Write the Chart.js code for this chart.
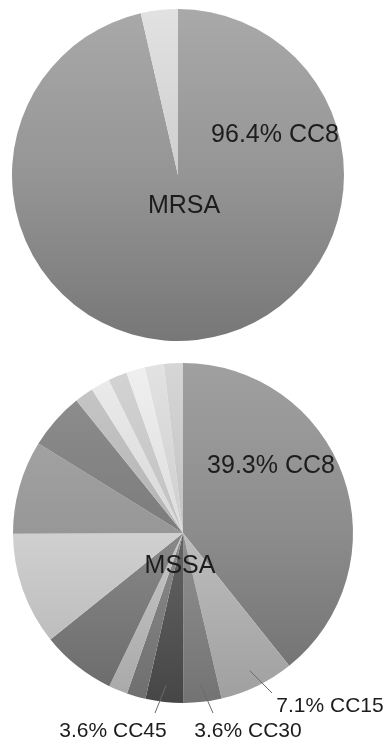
<!DOCTYPE html>
<html>
<head>
<meta charset="utf-8">
<script src="https://cdn.jsdelivr.net/npm/chart.js@4/dist/chart.umd.min.js"></script>
<style>
  html, body { margin: 0; padding: 0; background: #fff; }
  body { width: 388px; height: 740px; position: relative; overflow: hidden; }
  .box { position: absolute; left: 0; width: 388px; }
  #boxTop { top: 0; height: 350px; }
  #boxBottom { top: 350px; height: 390px; }
</style>
</head>
<body>
<div class="box" id="boxTop"><canvas id="mrsaChart"></canvas></div>
<div class="box" id="boxBottom"><canvas id="mssaChart"></canvas></div>
<script>
// MRSA: share of isolates per clonal complex (%)
const mrsaCategories = ['CC8', 'Other'];
const mrsaValues = [96.4, 3.6];
const mrsaColors = ['#959595', '#cecece'];

// MSSA: clockwise from 12 o'clock; only four complexes are named in the figure
const mssaCategories = ['CC8', 'CC15', 'CC30', 'CC45',
  'Other 1', 'Other 2', 'Other 3', 'Other 4', 'Other 5', 'Other 6',
  'Other 7', 'Other 8', 'Other 9', 'Other 10', 'Other 11', 'Other 12'];
const mssaValues = [39.3, 7.1, 3.6, 3.6, 1.8, 1.8, 7.1, 10.7, 8.9, 5.4,
  1.8, 1.8, 1.8, 1.8, 1.8, 1.8];
const mssaColors = ['#8c8c8c', '#bdbdbd', '#919191', '#646464', '#8c8c8c', '#c6c6c6',
  '#888888', '#d0d0d0', '#979797', '#7c7c7c',
  '#b4b4b4', '#d8d8d8', '#c0c0c0', '#dcdcdc', '#cecece', '#c2c2c2'];

function shift(hex, d) {
  const n = parseInt(hex.slice(1), 16);
  const c = [n >> 16, (n >> 8) & 255, n & 255].map(v => Math.max(0, Math.min(255, v + d)));
  return 'rgb(' + c.join(',') + ')';
}

// vertical light-to-dark shading, like the original office chart style
function shaded(colors) {
  return (ctx) => {
    const base = colors[ctx.dataIndex];
    const area = ctx.chart.chartArea;
    if (!area) return base;
    const g = ctx.chart.ctx.createLinearGradient(0, area.top, 0, area.bottom);
    g.addColorStop(0, shift(base, 20));
    g.addColorStop(0.5, shift(base, 0));
    g.addColorStop(1, shift(base, -30));
    return g;
  };
}

const FONT = '"Liberation Sans", Arial, sans-serif';

// draws the text labels and leader lines around the arcs
const pieLabels = {
  id: 'pieLabels',
  afterDatasetsDraw(chart, args, opts) {
    const ctx = chart.ctx;
    const arcs = chart.getDatasetMeta(0).data;
    const cx = arcs[0].x, cy = arcs[0].y, r = arcs[0].outerRadius;
    const cats = chart.data.labels;
    const vals = chart.data.datasets[0].data;
    ctx.save();
    ctx.fillStyle = '#1c1c1c';
    ctx.textAlign = 'center';
    ctx.textBaseline = 'middle';
    ctx.font = '25px ' + FONT;
    ctx.fillText(opts.title, cx + opts.titleAt[0], cy + opts.titleAt[1]);
    opts.items.forEach(it => {
      const text = vals[it.index].toFixed(1) + '% ' + cats[it.index];
      if (it.leader) {
        const a = arcs[it.index];
        const mid = (a.startAngle + a.endAngle) / 2;
        ctx.strokeStyle = '#6a6a6a';
        ctx.lineWidth = 1;
        ctx.beginPath();
        ctx.moveTo(cx + Math.cos(mid) * r * 0.9, cy + Math.sin(mid) * r * 0.9);
        ctx.lineTo(cx + it.leader[0], cy + it.leader[1]);
        ctx.stroke();
        ctx.font = '21px ' + FONT;
        ctx.textBaseline = 'alphabetic';
      } else {
        ctx.font = '25px ' + FONT;
        ctx.textBaseline = 'middle';
      }
      ctx.fillText(text, cx + it.at[0], cy + it.at[1]);
    });
    ctx.restore();
  }
};

function makePie(id, categories, values, colors, padding, labelOpts) {
  new Chart(document.getElementById(id), {
    type: 'pie',
    data: {
      labels: categories,
      datasets: [{
        data: values,
        backgroundColor: shaded(colors),
        borderWidth: 0
      }]
    },
    options: {
      responsive: true,
      maintainAspectRatio: false,
      animation: false,
      layout: { padding: padding },
      plugins: {
        legend: { display: false },
        tooltip: { enabled: false },
        pieLabels: labelOpts
      }
    },
    plugins: [pieLabels]
  });
}

makePie('mrsaChart', mrsaCategories, mrsaValues, mrsaColors,
  { left: 12, right: 44, top: 9, bottom: 9 },
  { title: 'MRSA', titleAt: [6, 31], items: [{ index: 0, at: [97, -40] }] });

makePie('mssaChart', mssaCategories, mssaValues, mssaColors,
  { left: 13, right: 35, top: 13, bottom: 37 },
  {
    title: 'MSSA', titleAt: [-3, 33],
    items: [
      { index: 0, at: [88, -67] },
      { index: 1, at: [147, 179], leader: [89, 160] },
      { index: 2, at: [65, 204], leader: [30, 180] },
      { index: 3, at: [-70, 204], leader: [-28, 180] }
    ]
  });
</script>
</body>
</html>
